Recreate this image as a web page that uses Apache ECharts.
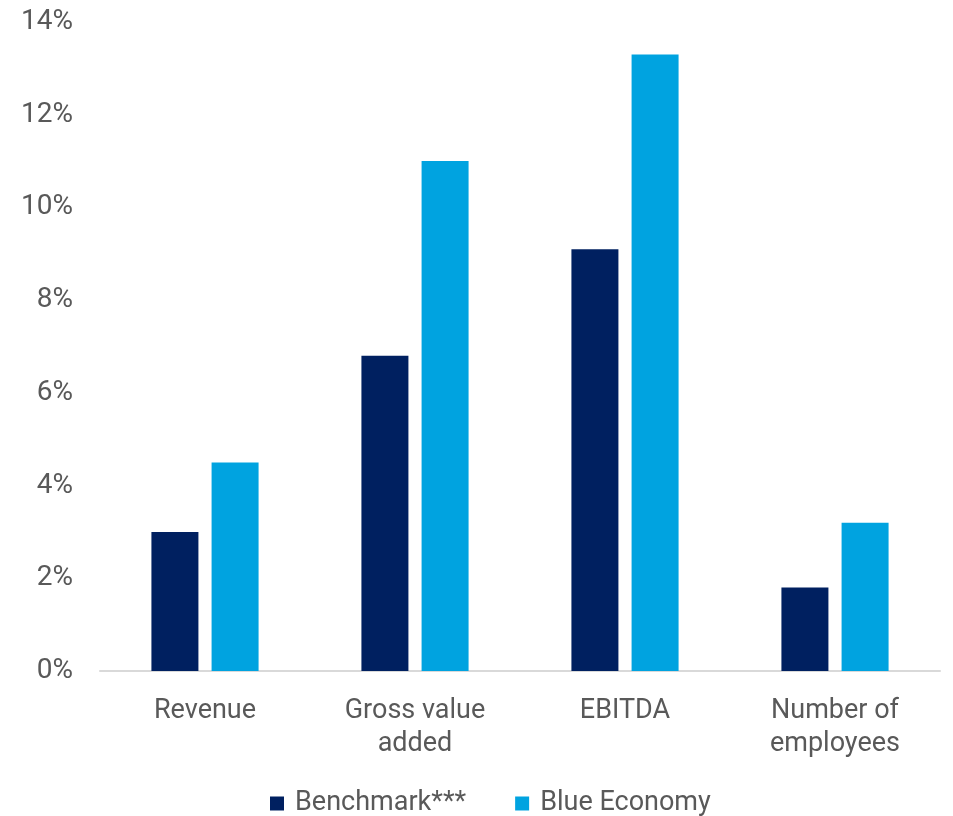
<!DOCTYPE html>
<html>
<head>
<meta charset="utf-8">
<script src="https://cdn.jsdelivr.net/npm/echarts@6/dist/echarts.min.js"></script>
<style>html,body{margin:0;padding:0;background:#fff;}#c{width:953px;height:816px;}</style>
</head>
<body>
<div id="c"></div>
<script>
const categories = ['Revenue', 'Gross value\nadded', 'EBITDA', 'Number of\nemployees'];
const benchmark = [3.0, 6.8, 9.1, 1.8];
const blueEconomy = [4.5, 11.0, 13.3, 3.2];
const seriesNames = ['Benchmark***', 'Blue Economy'];

const chart = echarts.init(document.getElementById('c'));
const font = 'Roboto, "Liberation Sans", sans-serif';
chart.setOption({
  animation: false,
  grid: { left: 100, right: 13, top: 22, bottom: 145 },
  legend: {
    top: 785,
    left: 265,
    itemWidth: 14, itemHeight: 14, itemGap: 49,
    icon: 'rect',
    textStyle: { fontFamily: font, fontSize: 27, color: '#595959', padding: [0,0,0,6] },
    data: seriesNames
  },
  xAxis: {
    type: 'category',
    data: categories,
    axisLine: { lineStyle: { color: '#d9d9d9', width: 2 } },
    axisTick: { show: false },
    axisLabel: { fontFamily: font, fontSize: 27, color: '#595959', lineHeight: 33, margin: 24 }
  },
  yAxis: {
    type: 'value',
    min: 0, max: 14, interval: 2,
    splitLine: { show: false },
    axisLine: { show: false },
    axisTick: { show: false },
    axisLabel: { fontFamily: font, fontSize: 28, color: '#595959', margin: 27, formatter: v => v + '%' }
  },
  series: [
    { name: seriesNames[0], type: 'bar', data: benchmark, barWidth: 47, barGap: '28%', itemStyle: { color: '#002060' } },
    { name: seriesNames[1], type: 'bar', data: blueEconomy, barWidth: 47, itemStyle: { color: '#00A3E0' } }
  ]
});
</script>
</body>
</html>
